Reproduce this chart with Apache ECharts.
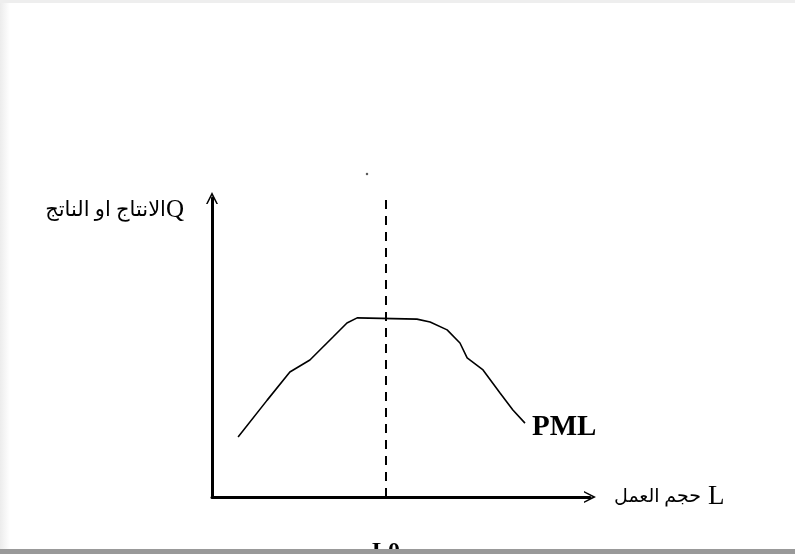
<!DOCTYPE html>
<html>
<head>
<meta charset="utf-8">
<script src="https://cdn.jsdelivr.net/npm/echarts@6/dist/echarts.min.js"></script>
<style>
    html, body { margin: 0; padding: 0; background: #fff; }
    #main { width: 795px; height: 554px; }
</style>
</head>
<body>
<div id="main"></div>
<script>
// labour input L (0-100) and output Q (0-100)
const labour = [6.9, 14.6, 20.6, 25.9, 32.0, 35.7, 38.4, 54.2, 57.7, 62.2, 65.6, 67.5, 71.7, 76.2, 79.6, 82.8];
const output = [20.1, 32.4, 41.8, 45.8, 53.5, 58.2, 59.9, 59.5, 58.5, 55.9, 51.5, 46.5, 42.5, 34.8, 29.1, 24.7];
const optimumL = 46;
const strayDot = [41, 108];

const curveName = 'PML';
const xNameArabic = 'حجم العمل';
const xSymbol = 'L';
const yNameArabic = 'الانتاج او الناتج';
const ySymbol = 'Q';
const optimumLabel = 'L0';

const serif = "'Liberation Serif', 'DejaVu Serif', 'DejaVu Sans', serif";
const chevron = 'path://M0,12 L6,0 L12,12 L10.4,12 L6,3.4 L1.6,12 Z';

var chartDom = document.getElementById('main');
var myChart = echarts.init(chartDom, null, { renderer: 'canvas' });
var option;

option = {
    backgroundColor: '#fff',
    animation: false,
    grid: {
        left: 212,
        right: 205,
        top: 198,
        bottom: 57
    },
    xAxis: {
        type: 'value',
        min: 0,
        max: 100,
        name: '{a|' + xNameArabic + '}{b|' + xSymbol + '}',
        nameLocation: 'end',
        nameGap: 24,
        nameTextStyle: {
            color: '#000',
            fontFamily: serif,
            verticalAlign: 'middle',
            rich: {
                a: { fontFamily: serif, fontSize: 19, color: '#000' },
                b: { fontFamily: serif, fontSize: 27, color: '#000', padding: [0, 0, 0, 7] }
            }
        },
        axisLine: {
            show: true,
            symbol: ['none', chevron],
            symbolSize: [12, 14],
            lineStyle: { color: '#000', width: 3 }
        },
        axisTick: { show: false },
        axisLabel: { show: false },
        splitLine: { show: false }
    },
    yAxis: {
        type: 'value',
        min: 0,
        max: 100,
        name: '{a|' + yNameArabic + '}{b|' + ySymbol + '}',
        nameLocation: 'end',
        nameGap: -12,
        nameTextStyle: {
            color: '#000',
            fontFamily: serif,
            align: 'right',
            verticalAlign: 'middle',
            padding: [0, 28, 0, 0],
            rich: {
                a: { fontFamily: serif, fontSize: 21, color: '#000' },
                b: { fontFamily: serif, fontSize: 25, color: '#000' }
            }
        },
        axisLine: {
            show: true,
            symbol: ['none', chevron],
            symbolSize: [12, 14],
            lineStyle: { color: '#000', width: 3 }
        },
        axisTick: { show: false },
        axisLabel: { show: false },
        splitLine: { show: false }
    },
    series: [
        {
            name: curveName,
            type: 'line',
            data: labour.map((l, i) => [l, output[i]]),
            showSymbol: false,
            smooth: false,
            lineStyle: { color: '#000', width: 1.6 },
            endLabel: {
                show: true,
                formatter: curveName,
                color: '#000',
                fontFamily: serif,
                fontWeight: 'bold',
                fontSize: 29,
                distance: 7,
                offset: [0, 4]
            },
            markLine: {
                silent: true,
                symbol: ['none', 'none'],
                lineStyle: { color: '#000', width: 2, type: [9, 7] },
                label: {
                    show: true,
                    position: 'start',
                    formatter: optimumLabel,
                    color: '#000',
                    fontFamily: serif,
                    fontWeight: 'bold',
                    fontSize: 24,
                    distance: 43
                },
                data: [[{ coord: [optimumL, 0] }, { coord: [optimumL, 100] }]]
            }
        },
        {
            type: 'scatter',
            data: [strayDot],
            clip: false,
            symbolSize: 2.5,
            itemStyle: { color: '#333' }
        }
    ],
    graphic: [
        {
            type: 'rect',
            left: 0,
            top: 0,
            shape: { width: 10, height: 554 },
            style: {
                fill: new echarts.graphic.LinearGradient(0, 0, 1, 0, [
                    { offset: 0, color: '#ececec' },
                    { offset: 1, color: '#ffffff' }
                ])
            },
            z: 100
        },
        {
            type: 'rect',
            left: 0,
            top: 0,
            shape: { width: 795, height: 3 },
            style: { fill: '#eeeeee' },
            z: 100
        },
        {
            type: 'rect',
            left: 0,
            top: 549,
            shape: { width: 795, height: 5 },
            style: { fill: '#999999' },
            z: 100
        }
    ]
};

option && myChart.setOption(option);
</script>
</body>
</html>
